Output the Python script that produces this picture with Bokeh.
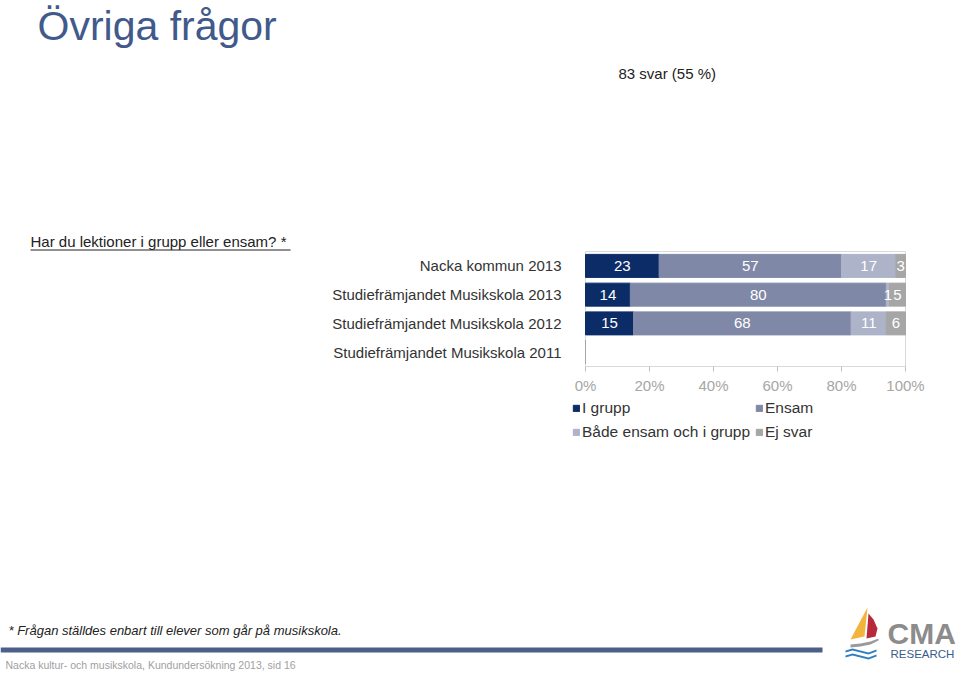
import math
from bokeh.plotting import figure
from bokeh.models import (ColumnDataSource, Range1d, LabelSet, Legend, LegendItem)
from bokeh.core.properties import value
from bokeh.embed import file_html
from bokeh.resources import INLINE

# ---------------- data ----------------
categories = ["Nacka kommun 2013",
              "Studiefrämjandet Musikskola 2013",
              "Studiefrämjandet Musikskola 2012",
              "Studiefrämjandet Musikskola 2011"]
series = ["I grupp", "Ensam", "Både ensam och i grupp", "Ej svar"]
i_grupp = [23, 14, 15, 0]
ensam = [57, 80, 68, 0]
bade = [17, 1, 11, 0]
ej_svar = [3, 5, 6, 0]
colors = ["#0c2c67", "#7f88a6", "#adb3c9", "#a6a6a6"]
x_ticks = [0, 20, 40, 60, 80, 100]
tick_labels = [f"{t}%" for t in x_ticks]

# ---------------- layout constants (page pixels) ----------------
FONT = "Liberation Sans"
W, H = 958, 671
CL, CR, CT, CB = 585, 905, 251, 366          # chart plot-area box
n = len(categories)
px_per_pct = (CR - CL) / 100.0
px_per_row = (CB - CT) / n

p = figure(width=W, height=H, output_backend="svg", toolbar_location=None,
           x_range=Range1d(0, W), y_range=Range1d(H, 0),
           x_axis_type=None, y_axis_type=None, min_border=0)
p.background_fill_color = "white"
p.border_fill_color = "white"
p.outline_line_color = None
p.grid.visible = False

p.extra_x_ranges = {"pct": Range1d(start=-CL / px_per_pct, end=(W - CL) / px_per_pct)}
p.extra_y_ranges = {"rows": Range1d(start=(CB - H) / px_per_row, end=CB / px_per_row)}
R = dict(x_range_name="pct", y_range_name="rows")

ypos = [n - i - 0.5 for i in range(n)]
keys = ["g", "e", "b", "s"]
source = ColumnDataSource(dict(cat=categories, y=ypos, g=i_grupp, e=ensam, b=bade, s=ej_svar))

# plot-area outline
p.quad(left=[0], right=[100], bottom=[0], top=[n], fill_color=None,
       line_color="#d9d9d9", line_width=1, **R)

rs = p.hbar_stack(keys, y="y", height=0.8, color=colors, source=source, **R)

# value labels
lx, ly, lt = [], [], []
all_vals = [i_grupp, ensam, bade, ej_svar]
for ci in range(n):
    cum = 0
    for vals in all_vals:
        v = vals[ci]
        if v > 0:
            lx.append(cum + v / 2)
            ly.append(ypos[ci])
            lt.append(str(v))
        cum += v
lab_src = ColumnDataSource(dict(x=lx, y=ly, t=lt))
p.add_layout(LabelSet(x="x", y="y", text="t", source=lab_src, text_align="center",
                      text_baseline="middle", text_color="white", text_font_size="15px",
                      text_font=value(FONT), **R))

# x axis ticks + labels
p.ray(x=x_ticks, y=[0] * len(x_ticks), length=5, length_units="screen",
      angle=-math.pi / 2, line_color="#bfbfbf", line_width=1, **R)
p.text(x=x_ticks, y=[0] * len(x_ticks), text=tick_labels, y_offset=19,
       text_align="center", text_baseline="middle", text_color="#a6a6a6",
       text_font_size=value("15px"), text_font=value(FONT), **R)

# category labels
p.text(x=[0] * n, y=ypos, text=categories, x_offset=-24, text_align="right",
       text_baseline="middle", text_color="#333333",
       text_font_size=value("15px"), text_font=value(FONT), **R)

# legend (vertical, 2 columns -> column-major order)
order = [0, 2, 1, 3]
legend = Legend(items=[LegendItem(label=series[i], renderers=[rs[i]]) for i in order],
                location=(572, H - 442), orientation="vertical", ncols=2,
                glyph_width=8, glyph_height=8, label_standoff=2, label_height=21,
                label_width=170, spacing=3, padding=0, margin=0, border_line_color=None,
                background_fill_alpha=0, label_text_font_size="15.5px",
                label_text_color="#333333", label_text_font=FONT)
p.add_layout(legend)

# ---------------- decorations (page coordinates) ----------------
def txt(t, x, y, size, color, style="normal"):
    p.text(x=[x], y=[y], text=[t], text_font_size=value(size), text_color=color,
           text_font=value(FONT), text_font_style=style,
           text_baseline="middle", text_align="left")

def rect(l, r, t, b, color):
    p.quad(left=[l], right=[r], top=[t], bottom=[b], fill_color=color, line_color=None)

def poly(pts, color):
    p.patch([q[0] for q in pts], [q[1] for q in pts], fill_color=color, line_color=None)

txt("Övriga frågor", 37, 25, "41px", "#41598b")
txt("83 svar (55 %)", 618, 73, "15px", "#222222")
txt("Har du lektioner i grupp eller ensam?  *", 30, 241, "15px", "#222222")
rect(30, 290, 249, 250, "#222222")
txt("* Frågan ställdes enbart till elever som går på musikskola.", 8, 630, "13px", "#222222", style="italic")
rect(0, 822, 647, 652, "#4b5f88")
txt("Nacka kultur- och musikskola, Kundundersökning 2013, sid 16", 5, 664, "10.5px", "#a0a0a0")

# logo
poly([(867, 607), (850, 639), (864, 636)], "#f2b43c")
poly([(868, 613), (873, 619), (877, 628), (875, 636), (866, 638)], "#b8283b")
poly([(850, 644), (860, 643), (870, 641), (878, 638), (878, 640), (870, 644), (860, 646), (850, 647)], "#9a9a9a")
poly([(845, 650), (852, 648), (860, 650), (868, 652), (876, 649), (876, 651), (868, 654), (860, 652), (852, 650), (845, 652)], "#2f7fc1")
poly([(845, 655), (852, 653), (860, 655), (868, 657), (876, 654), (876, 656), (868, 659), (860, 657), (852, 655), (845, 657)], "#2f7fc1")
txt("CMA", 887, 633, "30px", "#8c8c8c", style="bold")
txt("RESEARCH", 890, 653, "11.5px", "#3b5b8c")

open("out.html", "w").write(file_html(p, INLINE))
